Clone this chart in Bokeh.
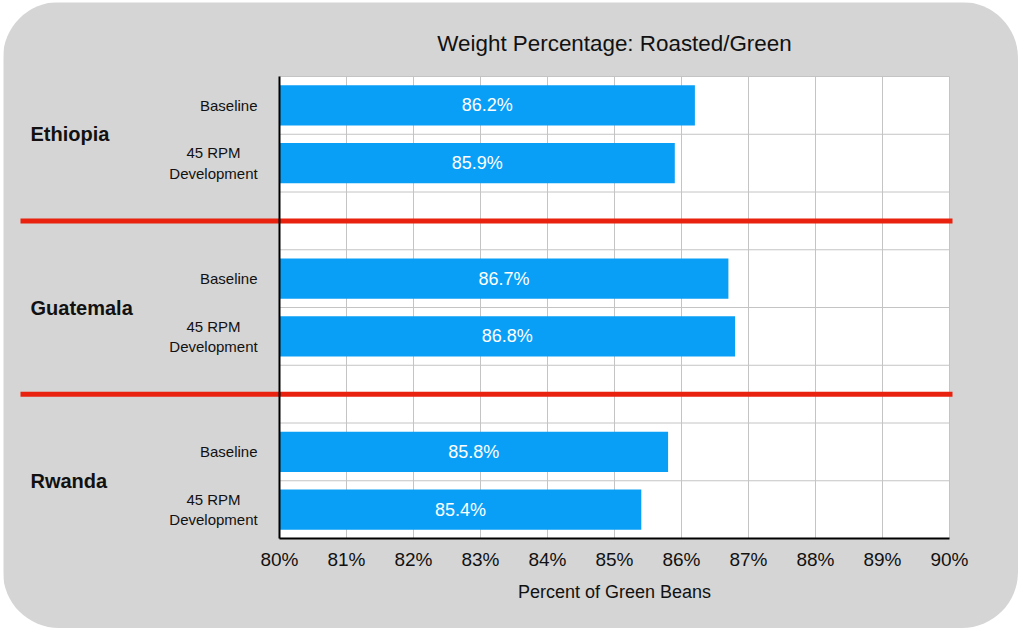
from bokeh.plotting import figure
from bokeh.models import Range1d, ColumnDataSource
from bokeh.core.properties import value
from bokeh.embed import file_html
from bokeh.resources import INLINE

# ---- data ----
countries = ["Ethiopia", "Guatemala", "Rwanda"]
treatments = ["Baseline", "45 RPM\nDevelopment"]
weights = {
    "Ethiopia": [86.2, 85.9],
    "Guatemala": [86.7, 86.8],
    "Rwanda": [85.8, 85.4],
}
x_ticks = [80, 81, 82, 83, 84, 85, 86, 87, 88, 89, 90]
title_text = "Weight Percentage: Roasted/Green"
x_label = "Percent of Green Beans"

# ---- style ----
FONT = "Liberation Sans"
BLUE = "#0a9ff6"
GREY_BG = "#d5d5d5"
GRID = "#c4c4c4"
RED = "#e8220f"
INK = "#111111"

# slots: two bars per country, then one empty separator slot
slot_y, slot_val, slot_lab = [], [], []
sep_slots, group_centers = [], []
s = 0
for gi, c in enumerate(countries):
    start = s
    for ti, t in enumerate(treatments):
        slot_y.append(s)
        slot_val.append(weights[c][ti])
        slot_lab.append(t)
        s += 1
    group_centers.append((start + s - 1) / 2)
    if gi < len(countries) - 1:
        sep_slots.append(s)
        s += 1
n_slots = s

x0, x1 = x_ticks[0], x_ticks[-1]
y_top, y_bot = -0.5, n_slots - 0.5

# pixel layout of the plotting area inside the figure
W, H = 1015, 626
ML, MR, MT, MB = 276, 69, 74, 90
ppx = (W - ML - MR) / (x1 - x0)      # px per percent
ppy = (H - MT - MB) / (y_bot - y_top)  # px per slot

p = figure(width=W, height=H, output_backend="svg", toolbar_location=None,
           x_range=Range1d(x0 - ML / ppx, x1 + MR / ppx),
           y_range=Range1d(y_bot + MB / ppy, y_top - MT / ppy),
           x_axis_type=None, y_axis_type=None, min_border=0)
p.styles = {"border-radius": "56px", "overflow": "hidden",
            "margin-left": "3px", "margin-top": "2px"}
p.background_fill_color = GREY_BG
p.border_fill_color = GREY_BG
p.outline_line_color = None
p.xgrid.visible = False
p.ygrid.visible = False

# plot area
p.quad(left=[x0], right=[x1], top=[y_top], bottom=[y_bot],
       fill_color="white", line_color=None)

# grid
p.segment(x0=x_ticks, x1=x_ticks, y0=[y_top] * len(x_ticks),
          y1=[y_bot] * len(x_ticks), line_color=GRID, line_width=1)
hb = [i - 0.5 for i in range(n_slots + 1)]
p.segment(x0=[x0] * len(hb), x1=[x1] * len(hb), y0=hb, y1=hb,
          line_color=GRID, line_width=1)

# bars
src = ColumnDataSource(dict(
    y=slot_y,
    v=slot_val,
    mid=[(x0 + v) / 2 for v in slot_val],
    txt=[f"{v:.1f}%" for v in slot_val],
))
p.hbar(y="y", left=x0, right="v", height=0.693, source=src,
       fill_color=BLUE, line_color=None)
p.text(x="mid", y="y", text="txt", source=src, text_color="white",
       text_font=value(FONT), text_font_size="18px",
       text_align="center", text_baseline="middle")

# red separators
p.segment(x0=[x0 - 259 / ppx] * len(sep_slots), x1=[x1 + 3 / ppx] * len(sep_slots),
          y0=sep_slots, y1=sep_slots, line_color=RED, line_width=5)

# axis lines
p.segment(x0=[x0, x0], x1=[x0, x1], y0=[y_top, y_bot], y1=[y_bot, y_bot],
          line_color="black", line_width=2)

# x tick labels
p.text(x=x_ticks, y=[y_bot] * len(x_ticks), text=[f"{t}%" for t in x_ticks],
       y_offset=21, text_font=value(FONT), text_font_size="19px",
       text_color=INK, text_align="center", text_baseline="alphabetic")

# x axis title and chart title
p.text(x=[(x0 + x1) / 2], y=[y_bot], text=[x_label], y_offset=53,
       text_font=value(FONT), text_font_size="18px", text_color=INK,
       text_align="center", text_baseline="alphabetic")
p.text(x=[(x0 + x1) / 2], y=[y_top], text=[title_text], y_offset=-33,
       text_font=value(FONT), text_font_size="22.4px", text_color=INK,
       text_align="center", text_baseline="alphabetic")

# treatment labels
single = [i for i, l in enumerate(slot_lab) if "\n" not in l]
multi = [i for i, l in enumerate(slot_lab) if "\n" in l]
p.text(x=[x0] * len(single), y=[slot_y[i] for i in single],
       text=[slot_lab[i] for i in single], x_offset=-22,
       text_font=value(FONT), text_font_size="15px", text_color=INK,
       text_align="right", text_baseline="middle")
p.text(x=[x0] * len(multi), y=[slot_y[i] for i in multi],
       text=[slot_lab[i] for i in multi], x_offset=-66,
       text_font=value(FONT), text_font_size="15px", text_color=INK,
       text_align="center", text_baseline="middle", text_line_height=1.2)

# country labels
p.text(x=[x0] * len(countries), y=group_centers, text=countries,
       x_offset=-249, text_font=value(FONT), text_font_size="20px",
       text_font_style="bold", text_color=INK,
       text_align="left", text_baseline="middle")

open("out.html", "w").write(file_html(p, INLINE))
